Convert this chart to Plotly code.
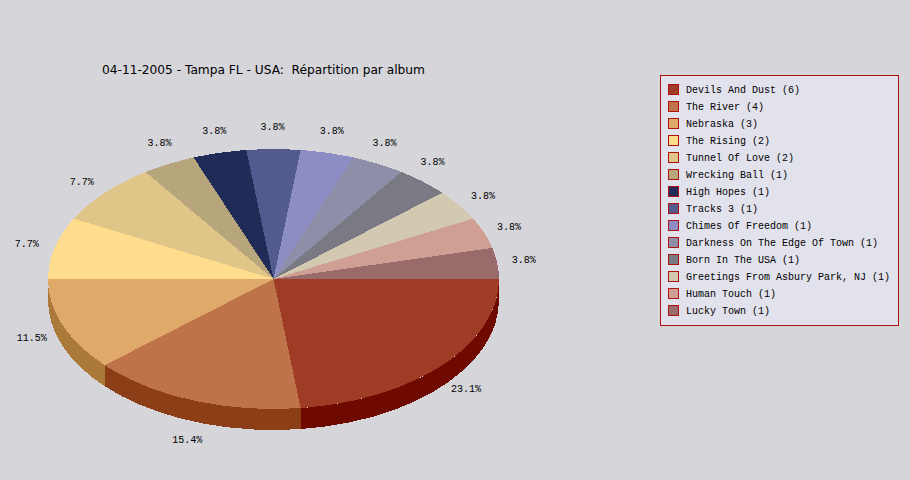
import math
import plotly.graph_objects as go

albums = ["Devils And Dust", "The River", "Nebraska", "The Rising", "Tunnel Of Love", "Wrecking Ball",
          "High Hopes", "Tracks 3", "Chimes Of Freedom", "Darkness On The Edge Of Town", "Born In The USA",
          "Greetings From Asbury Park, NJ", "Human Touch", "Lucky Town"]
counts = [6, 4, 3, 2, 2, 1, 1, 1, 1, 1, 1, 1, 1, 1]
colors = ["#9f3c26", "#bf734a", "#dfa96a", "#ffdd8d", "#dfc587", "#b7a67b", "#212b57",
          "#535b8e", "#8b8dc3", "#8e8ea9", "#7a7a84", "#d3c9b0", "#cf9f93", "#9a6b6b"]
side_colors = ["#6f0a00", "#8c3f16", "#ab7a3a"]
title = "04-11-2005 - Tampa FL - USA:  Répartition par album"

W, H = 910, 480
CX, CY, RX, RY, DEPTH = 273.5, 279, 225.5, 130, 21
LRX, LRY_BACK, LRY_FRONT = 252, 153, 167
BG, LEG_BG, LEG_LINE = "#d5d5da", "#e2e2ec", "#b01010"
MONO = dict(family="Liberation Mono", size=10, color="#000000")
# small text-placement offsets around the ellipse (the original anchors labels by quadrant)
LABEL_DX = [4, 3, -6, -2, -3, 3, 1, -1, -2, -6, -8, 2, 0, 0]
LABEL_DY = [0, 5, 0, 2, 5, 0, 1, 1, 1, 0, -2, 4, 3, 0]

total = sum(counts)
edges = [0.0]
for c in counts:
    edges.append(edges[-1] + c / total * 360)


def arc(a0, a1, dy=0.0):
    n = max(2, int(abs(a1 - a0) * 2))
    pts = [a0 + (a1 - a0) * i / n for i in range(n + 1)]
    return ([CX + RX * math.cos(math.radians(a)) for a in pts],
            [CY + dy + RY * math.sin(math.radians(a)) for a in pts])


fig = go.Figure()


def poly(xs, ys, col):
    fig.add_trace(go.Scatter(x=xs, y=ys, mode="lines", fill="toself", fillcolor=col,
                             line=dict(width=0, color=col), hoverinfo="skip", showlegend=False))


# visible rim, front half only
for i, col in enumerate(side_colors):
    a0, a1 = edges[i], min(edges[i + 1], 180)
    xt, yt = arc(a0, a1)
    xb, yb = arc(a0, a1, DEPTH)
    poly(xt + xb[::-1], yt + yb[::-1], col)

# top faces
for i, col in enumerate(colors):
    xt, yt = arc(edges[i], edges[i + 1])
    poly([CX] + xt + [CX], [CY] + yt + [CY], col)

# percentage labels
lx, ly, lt = [], [], []
for i, c in enumerate(counts):
    m = math.radians((edges[i] + edges[i + 1]) / 2)
    s = math.sin(m)
    lx.append(CX + LRX * math.cos(m) + LABEL_DX[i])
    ly.append(CY + (LRY_FRONT if s > 0 else LRY_BACK) * s + LABEL_DY[i])
    lt.append(f"{c / total * 100:.1f}%")
fig.add_trace(go.Scatter(x=lx, y=ly, text=lt, mode="text", textposition="middle center",
                         textfont=MONO, hoverinfo="skip", showlegend=False))

# legend
rows = [89.5 + 17 * i for i in range(len(albums))]
fig.add_shape(type="rect", x0=660.5, x1=898.5, y0=75.5, y1=325.5, xref="x", yref="y",
              fillcolor=LEG_BG, line=dict(color=LEG_LINE, width=1), layer="below")
fig.add_trace(go.Scatter(x=[673.5] * len(rows), y=rows, mode="markers", hoverinfo="skip", showlegend=False,
                         marker=dict(symbol="square", size=10, color=colors, line=dict(color=LEG_LINE, width=1))))
fig.add_trace(go.Scatter(x=[686] * len(rows), y=[r + 1 for r in rows], mode="text", textposition="middle right",
                         text=[f"{a} ({c})" for a, c in zip(albums, counts)],
                         textfont=MONO, hoverinfo="skip", showlegend=False))

fig.update_layout(
    width=W, height=H, margin=dict(l=0, r=0, t=0, b=0),
    paper_bgcolor=BG, plot_bgcolor=BG,
    title=dict(text=title, x=102 / W, xanchor="left", xref="paper", y=1 - 70 / H, yanchor="middle",
               yref="paper", font=dict(family="DejaVu Sans", size=12.2, color="#000000")),
    xaxis=dict(range=[0, W], visible=False, fixedrange=True),
    yaxis=dict(range=[H, 0], visible=False, fixedrange=True),
)
fig.write_html("out.html", config=dict(displayModeBar=False),
               post_script="document.body.style.margin='0';document.body.style.overflow='hidden';"
                           "document.querySelectorAll('path').forEach(function(p){p.style.shapeRendering='crispEdges';});")
